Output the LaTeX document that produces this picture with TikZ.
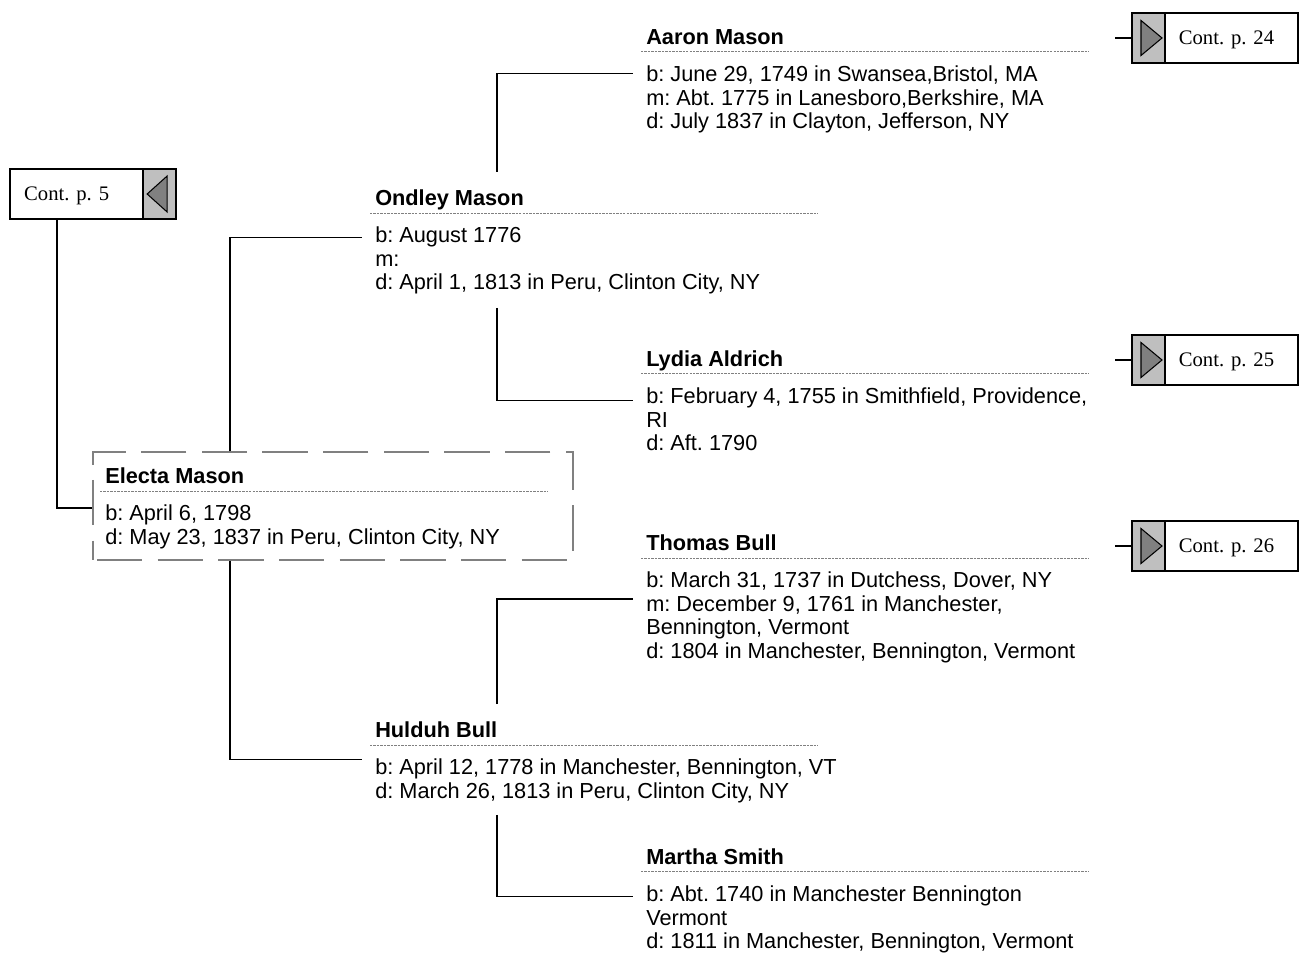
\documentclass[tikz,border=0pt]{standalone}
\usepackage{fontspec}
\setmainfont{Liberation Sans}
\newfontfamily\contfont{Liberation Serif}
\usepackage{xcolor}
\usepackage{tikz}
\usetikzlibrary{positioning,calc}
\frenchspacing
\tikzset{
  nameText/.style={
    anchor=base west,
    inner sep=0pt,
    text depth=0pt,
    font=\fontsize{16.3}{17.6}\selectfont\bfseries
  },
  infoText/.style={
    inner sep=0pt,
    align=left,
    font=\fontsize{16.3}{17.6}\selectfont
  },
  sepLine/.style={
    draw=gray,
    line width=0.6pt,
    dash pattern=on 1.8pt off 0.8pt
  },
  treeLine/.style={
    draw=black,
    line width=1.3pt
  },
  electaFrame/.style={
    rectangle,
    draw=gray,
    line width=1pt,
    dash pattern=on 34pt off 11.5pt,
    dash phase=-3pt,
    minimum width=360pt,
    minimum height=81pt
  },
  contBox/.style={
    rectangle,
    draw=black,
    fill=white,
    line width=1.5pt,
    outer sep=0pt,
    inner xsep=10.5pt,
    text width=78.5pt,
    align=left,
    text depth=0pt,
    minimum height=37.5pt,
    font=\contfont\fontsize{15.5}{18}\selectfont
  },
  contTab/.style={
    rectangle,
    draw=black,
    fill=gray!50,
    line width=1.5pt,
    outer sep=0pt,
    minimum width=24.5pt,
    minimum height=37.5pt
  },
  contArrow/.style={
    draw=black,
    fill=gray,
    line width=0.8pt,
    line join=miter
  }
}

\begin{document}
\begin{tikzpicture}[x=0.75pt,y=-0.75pt]
        \useasboundingbox (0,0) rectangle (1307,962);

        % continuation boxes
        \node[contBox] (contFive) at (76.5,194) {Cont. p. 5};
        \node[contTab, right=0pt of contFive] (contFiveTab) {};
        \draw[contArrow] ([shift={(8,-18)}]contFiveTab.center) -- ([shift={(-12,0)}]contFiveTab.center) -- ([shift={(8,18)}]contFiveTab.center) -- cycle;

        \node[contTab] (aaronTab) at (1148.5,38) {};
        \node[contBox, right=0pt of aaronTab] (aaronCont) {Cont. p. 24};
        \draw[contArrow] ([shift={(-7.5,-17.5)}]aaronTab.center) -- ([shift={(13.5,0)}]aaronTab.center) -- ([shift={(-7.5,17.5)}]aaronTab.center) -- cycle;

        \node[contTab] (lydiaTab) at (1148.5,360) {};
        \node[contBox, right=0pt of lydiaTab] (lydiaCont) {Cont. p. 25};
        \draw[contArrow] ([shift={(-7.5,-17.5)}]lydiaTab.center) -- ([shift={(13.5,0)}]lydiaTab.center) -- ([shift={(-7.5,17.5)}]lydiaTab.center) -- cycle;

        \node[contTab] (thomasTab) at (1148.5,546) {};
        \node[contBox, right=0pt of thomasTab] (thomasCont) {Cont. p. 26};
        \draw[contArrow] ([shift={(-7.5,-17.5)}]thomasTab.center) -- ([shift={(13.5,0)}]thomasTab.center) -- ([shift={(-7.5,17.5)}]thomasTab.center) -- cycle;

        % people
        \node[electaFrame] (electaBox) at (333,506) {};
        \node[nameText] (electaName) at (105,483.7) {Electa Mason};
        \draw[sepLine] ([shift={(-5,7.3)}]electaName.base west) -- ++(448,0);
        \node[infoText, below right=15.45pt and 0pt of electaName.south west] (electaInfo) {b: April 6, 1798\\d: May 23, 1837 in Peru, Clinton City, NY};

        \node[nameText] (ondleyName) at (375,205.7) {Ondley Mason};
        \draw[sepLine] ([shift={(-5,7.3)}]ondleyName.base west) -- ++(448,0);
        \node[infoText, below right=15.45pt and 0pt of ondleyName.south west] (ondleyInfo) {b: August 1776\\m:\\d: April 1, 1813 in Peru, Clinton City, NY};

        \node[nameText] (hulduhName) at (375,737.7) {Hulduh Bull};
        \draw[sepLine] ([shift={(-5,7.3)}]hulduhName.base west) -- ++(448,0);
        \node[infoText, below right=15.45pt and 0pt of hulduhName.south west] (hulduhInfo) {b: April 12, 1778 in Manchester, Bennington, VT\\d: March 26, 1813 in Peru, Clinton City, NY};

        \node[nameText] (aaronName) at (646,44.7) {Aaron Mason};
        \draw[sepLine] ([shift={(-5,7)}]aaronName.base west) -- ++(448,0);
        \node[infoText, below right=15.45pt and 0pt of aaronName.south west] (aaronInfo) {b: June 29, 1749 in Swansea,Bristol, MA\\m: Abt. 1775 in Lanesboro,Berkshire, MA\\d: July 1837 in Clayton, Jefferson, NY};

        \node[nameText] (lydiaName) at (646,366.7) {Lydia Aldrich};
        \draw[sepLine] ([shift={(-5,7)}]lydiaName.base west) -- ++(448,0);
        \node[infoText, below right=15.45pt and 0pt of lydiaName.south west] (lydiaInfo) {b: February 4, 1755 in Smithfield, Providence,\\RI\\d: Aft. 1790};

        \node[nameText] (thomasName) at (646,551) {Thomas Bull};
        \draw[sepLine] ([shift={(-5,7.3)}]thomasName.base west) -- ++(448,0);
        \node[infoText, below right=15.45pt and 0pt of thomasName.south west] (thomasInfo) {b: March 31, 1737 in Dutchess, Dover, NY\\m: December 9, 1761 in Manchester,\\Bennington, Vermont\\d: 1804 in Manchester, Bennington, Vermont};

        \node[nameText] (marthaName) at (646,864.7) {Martha Smith};
        \draw[sepLine] ([shift={(-5,7)}]marthaName.base west) -- ++(448,0);
        \node[infoText, below right=15.45pt and 0pt of marthaName.south west] (marthaInfo) {b: Abt. 1740 in Manchester Bennington\\Vermont\\d: 1811 in Manchester, Bennington, Vermont};

        % connectors
        \draw[treeLine] ([shift={(-19.5,0)}]contFive.south) |- ([shift={(0,2)}]electaBox.west);
        \draw[treeLine] ([shift={(-103,0)}]electaBox.north) |- ([shift={(-13,11)}]ondleyInfo.north west);
        \draw[treeLine] ([shift={(-103,0)}]electaBox.south) |- ([shift={(-13,1)}]hulduhInfo.north west);
        \draw[treeLine] ([shift={(122,-18)}]ondleyName.north west) |- ([shift={(-13,8)}]aaronInfo.north west);
        \draw[treeLine] ([shift={(122,13.5)}]ondleyInfo.south west) |- ([shift={(-13,13)}]lydiaInfo.north west);
        \draw[treeLine] ([shift={(122,-17.5)}]hulduhName.north west) |- ([shift={(-13,27)}]thomasInfo.north west);
        \draw[treeLine] ([shift={(122,12)}]hulduhInfo.south west) |- ([shift={(-13,11)}]marthaInfo.north west);
        \draw[treeLine] (aaronTab.west) -- ++(-17,0);
        \draw[treeLine] (lydiaTab.west) -- ++(-17,0);
        \draw[treeLine] (thomasTab.west) -- ++(-17,0);

    \end{tikzpicture}
\end{document}
